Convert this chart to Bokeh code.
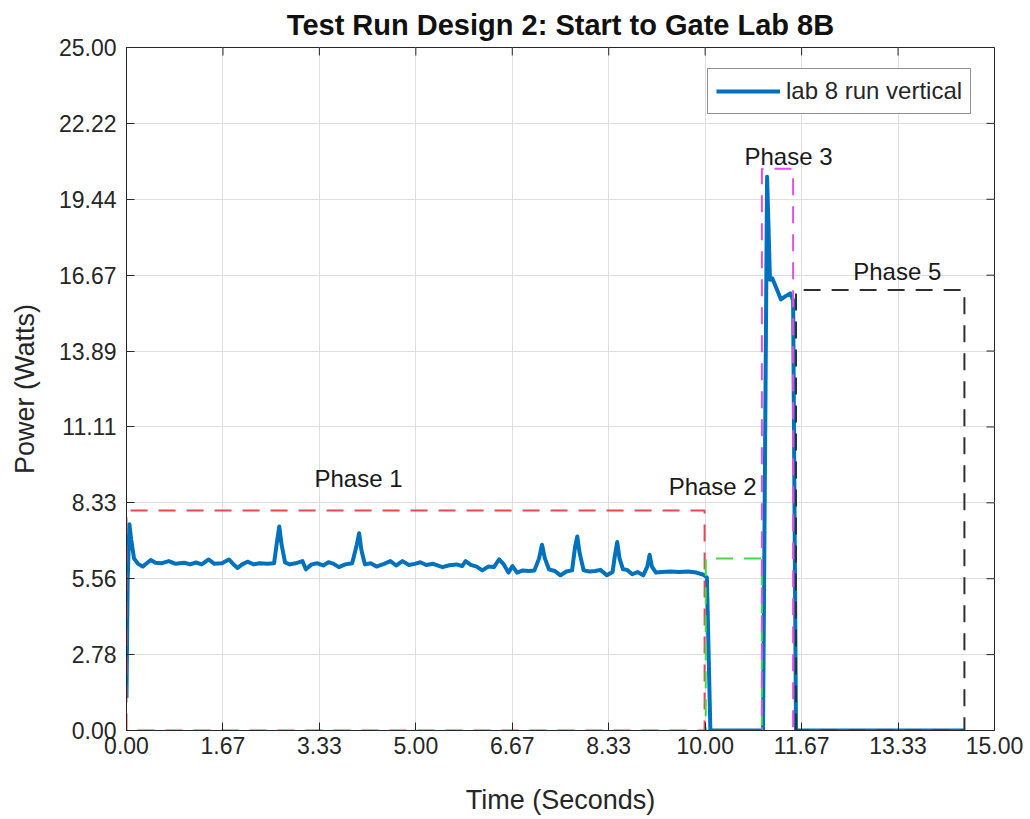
from bokeh.plotting import figure
from bokeh.models import FixedTicker, Label, Range1d
from bokeh.embed import file_html
from bokeh.resources import INLINE

# ---------------- data ----------------
time_s = [0.00, 0.02, 0.05, 0.08, 0.13, 0.20, 0.28, 0.35, 0.42, 0.50, 0.60, 0.73, 0.85,
          1.00, 1.10, 1.20, 1.30, 1.42, 1.52, 1.65, 1.77, 1.85, 1.92, 2.00, 2.09, 2.20,
          2.30, 2.43, 2.55, 2.60, 2.64, 2.68, 2.74, 2.82, 2.92, 3.04, 3.10, 3.20, 3.30,
          3.40, 3.49, 3.58, 3.67, 3.78, 3.90, 3.98, 4.02, 4.06, 4.12, 4.22, 4.32, 4.45,
          4.56, 4.66, 4.77, 4.88, 4.98, 5.08, 5.18, 5.30, 5.46, 5.58, 5.70, 5.80, 5.86,
          5.95, 6.05, 6.15, 6.25, 6.35, 6.44, 6.52, 6.60, 6.67, 6.75, 6.85, 6.95, 7.05,
          7.13, 7.18, 7.23, 7.30, 7.40, 7.50, 7.60, 7.70, 7.75, 7.79, 7.83, 7.90, 8.00,
          8.10, 8.19, 8.30, 8.40, 8.44, 8.48, 8.52, 8.58, 8.65, 8.74, 8.83, 8.93, 9.00,
          9.04, 9.08, 9.15, 9.25, 9.40, 9.55, 9.70, 9.85, 9.97, 10.03, 10.09, 10.50,
          11.00, 11.07, 11.12, 11.16, 11.23, 11.31, 11.39, 11.47, 11.52, 11.57, 12.50,
          14.47]
power_w = [1.19, 5.50, 7.55, 7.00, 6.30, 6.10, 6.00, 6.12, 6.24, 6.14, 6.12, 6.20, 6.10,
           6.14, 6.08, 6.15, 6.08, 6.26, 6.10, 6.12, 6.26, 6.08, 5.95, 6.08, 6.18, 6.08,
           6.12, 6.10, 6.12, 6.90, 7.47, 6.80, 6.15, 6.08, 6.12, 6.20, 5.90, 6.08, 6.12,
           6.04, 6.16, 6.10, 5.98, 6.08, 6.12, 6.80, 7.22, 6.60, 6.08, 6.12, 6.00, 6.10,
           6.20, 6.04, 6.20, 6.06, 6.10, 6.16, 6.06, 6.10, 5.98, 6.05, 6.08, 6.02, 6.20,
           6.06, 6.00, 5.86, 6.00, 5.98, 6.26, 6.08, 5.78, 6.02, 5.78, 5.86, 5.84, 5.86,
           6.30, 6.80, 6.30, 5.90, 5.84, 5.68, 5.82, 5.86, 6.70, 7.10, 6.50, 5.86, 5.82,
           5.84, 5.88, 5.68, 5.80, 6.40, 6.90, 6.30, 5.90, 5.88, 5.72, 5.80, 5.68, 6.00,
           6.43, 6.00, 5.78, 5.80, 5.82, 5.80, 5.82, 5.78, 5.70, 5.60, 0.00, 0.00,
           0.00, 20.27, 16.50, 16.55, 16.20, 15.78, 15.90, 16.00, 15.75, 0.00, 0.00,
           0.00]

phase_names = ["Phase 1", "Phase 2", "Phase 3", "Phase 5"]
phase_start = [0.00, 10.01, 10.98, 11.57]
phase_end = [9.99, 10.98, 11.52, 14.48]
phase_top = [8.05, 6.30, 20.56, 16.12]
phase_bottom = [0.00, -0.50, -0.50, 0.00]

x_tick_values = [0.0, 1.6667, 3.3333, 5.0, 6.6667, 8.3333, 10.0, 11.6667, 13.3333, 15.0]
x_tick_labels = ["0.00", "1.67", "3.33", "5.00", "6.67", "8.33", "10.00", "11.67", "13.33", "15.00"]
y_tick_values = [0.0, 2.7778, 5.5556, 8.3333, 11.1111, 13.8889, 16.6667, 19.4444, 22.2222, 25.0]
y_tick_labels = ["0.00", "2.78", "5.56", "8.33", "11.11", "13.89", "16.67", "19.44", "22.22", "25.00"]

title_text = "Test Run Design 2: Start to Gate Lab 8B"

# ---------------- styles ----------------
FONT = "Liberation Sans"
INK = "#262626"
phase_colors = ["#EE4450", "#44D844", "#E050E8", "#303030"]
phase_label_pos = [(4.01, 9.22), (10.13, 8.93), (11.44, 21.0), (13.32, 16.8)]
FW, FH = 868, 683
X0, X1, Y0, Y1 = 0, 15, 0, 25
TICK_PX = 8

p = figure(frame_width=FW, frame_height=FH,
           min_border_left=126, min_border_right=36, min_border_top=46, min_border_bottom=90,
           x_range=Range1d(X0, X1), y_range=Range1d(Y0, Y1),
           output_backend="svg", toolbar_location=None,
           background_fill_color="white", border_fill_color="white")

p.title.text = title_text
p.title.align = "center"
p.title.text_font = FONT
p.title.text_font_size = "29px"
p.title.text_font_style = "bold"
p.title.text_color = "#111111"
p.title.text_line_height = 1.0
p.title.standoff = 13

xt = FixedTicker(ticks=x_tick_values)
yt = FixedTicker(ticks=y_tick_values)

p.xaxis.ticker = xt
p.yaxis.ticker = yt
p.xaxis.major_label_overrides = dict(zip(x_tick_values, x_tick_labels))
p.yaxis.major_label_overrides = dict(zip(y_tick_values, y_tick_labels))
p.xaxis.axis_label = "Time (Seconds)"
p.yaxis.axis_label = "Power (Watts)"

for ax in (p.xaxis[0], p.yaxis[0]):
    ax.axis_line_color = INK
    ax.major_tick_line_color = INK
    ax.major_tick_in = TICK_PX
    ax.major_tick_out = 0
    ax.minor_tick_line_color = None
    ax.major_label_text_font = FONT
    ax.major_label_text_font_size = "23px"
    ax.major_label_text_color = INK
    ax.axis_label_text_font = FONT
    ax.axis_label_text_font_size = "27px"
    ax.axis_label_text_font_style = "normal"
    ax.axis_label_text_color = INK
p.xaxis.major_label_standoff = 6
p.xaxis.axis_label_standoff = 28
p.yaxis.major_label_standoff = 10
p.yaxis.axis_label_standoff = 16

# inward ticks on the top and right edges of the box
tx = TICK_PX * (X1 - X0) / FW
ty = TICK_PX * (Y1 - Y0) / FH
p.segment(x0=x_tick_values, x1=x_tick_values, y0=[Y1] * len(x_tick_values),
          y1=[Y1 - ty] * len(x_tick_values), line_color=INK, line_width=1)
p.segment(x0=[X1] * len(y_tick_values), x1=[X1 - tx] * len(y_tick_values),
          y0=y_tick_values, y1=y_tick_values, line_color=INK, line_width=1)

p.xgrid.ticker = xt
p.ygrid.ticker = yt
p.xgrid.grid_line_color = "#DEDEDE"
p.ygrid.grid_line_color = "#DEDEDE"
p.outline_line_color = INK

# data line
p.line(time_s, power_w, line_color="#0072BD", line_width=4, line_join="round",
       legend_label="lab 8 run vertical")

# phase boxes
for i in range(len(phase_names)):
    x0, x1, y0, y1 = phase_start[i], phase_end[i], phase_bottom[i], phase_top[i]
    p.line([x0, x0, x1, x1, x0], [y0, y1, y1, y0, y0], line_color=phase_colors[i],
           line_width=2, line_dash="17 11")
    lx, ly = phase_label_pos[i]
    p.add_layout(Label(x=lx, y=ly, text=phase_names[i], text_align="center",
                       text_baseline="middle", text_font=FONT, text_font_size="24px",
                       text_color="#1a1a1a"))

lg = p.legend[0]
lg.location = (581, 616)
lg.label_text_font = FONT
lg.label_text_font_size = "24px"
lg.label_text_color = INK
lg.glyph_width = 64
lg.glyph_height = 22
lg.label_height = 22
lg.label_standoff = 6
lg.padding = 8
lg.margin = 0
lg.spacing = 0
lg.border_line_color = INK
lg.border_line_width = 1
lg.background_fill_alpha = 1.0

open("out.html", "w").write(file_html(p, INLINE))
